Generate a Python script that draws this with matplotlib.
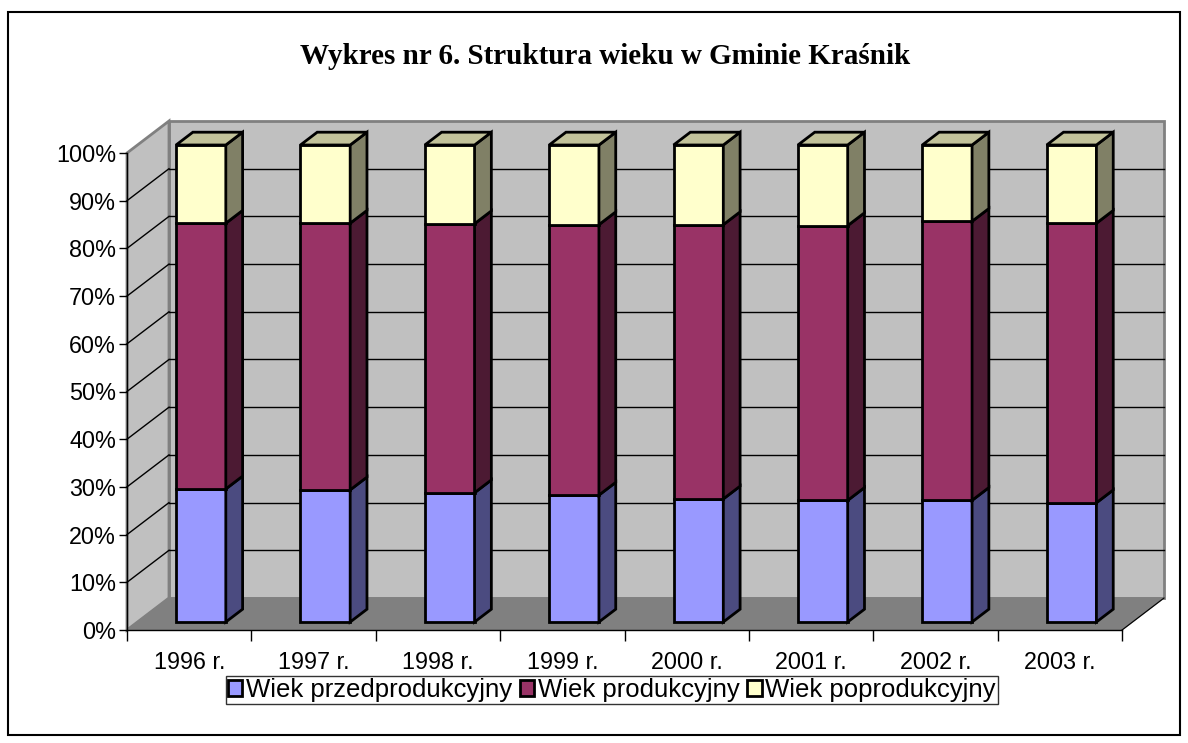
import numpy as np
import matplotlib
matplotlib.use("Agg")
from matplotlib import pyplot as plt
from matplotlib.patches import Polygon, Patch, Rectangle

years = ["1996 r.", "1997 r.", "1998 r.", "1999 r.", "2000 r.", "2001 r.", "2002 r.", "2003 r."]
przed = [27.9, 27.7, 27.1, 26.6, 25.8, 25.5, 25.5, 25.0]
prod = [55.7, 55.9, 56.4, 56.7, 57.5, 57.6, 58.5, 58.6]
popr = [16.4, 16.4, 16.5, 16.7, 16.7, 16.9, 16.0, 16.4]
names = ["Wiek przedprodukcyjny", "Wiek produkcyjny", "Wiek poprodukcyjny"]

# front, side, top colours (excel 3d style)
cols = [("#9999FF", "#4B4B80", "#B0B0FF"),
        ("#993366", "#4C1A33", "#B35580"),
        ("#FFFFCC", "#808066", "#C2C29A")]

W, H = 1188, 743
fig = plt.figure(figsize=(W / 100, H / 100), dpi=100)
ax = fig.add_axes([127 / W, 1 - 630 / H, 995 / W, 477 / H])
n = len(years)
ax.set_xlim(0, n)
ax.set_ylim(0, 100)

DX = 42 / (995 / n)     # depth offset in category units
DY = 32 / 4.77          # depth offset in percent units

# walls and floor
ax.add_patch(Polygon([(DX, DY), (n + DX, DY), (n + DX, 100 + DY), (DX, 100 + DY)],
                     fc="#C0C0C0", ec="#808080", lw=2, clip_on=False, zorder=1))
ax.add_patch(Polygon([(0, 0), (DX, DY), (DX, 100 + DY), (0, 100)],
                     fc="#C0C0C0", ec="#808080", lw=2, clip_on=False, zorder=1))
ax.add_patch(Polygon([(0, 0), (n, 0), (n + DX, DY), (DX, DY)],
                     fc="#808080", ec="#808080", lw=1, clip_on=False, zorder=1.5))
ax.plot([n, n + DX], [0, DY], color="black", lw=0.8, clip_on=False, zorder=1.6)

for g in range(10, 100, 10):
    ax.plot([DX, n + DX], [g + DY, g + DY], color="black", lw=1, clip_on=False, zorder=2)
    ax.plot([0, DX], [g, g + DY], color="black", lw=1, clip_on=False, zorder=2)

f0, f1 = 0.25, 0.65
bx0, bw = 0.31, 0.40
for i in range(n):
    base = 0
    vals = [przed[i], prod[i], popr[i]]
    for k, v in enumerate(vals):
        x0 = i + bx0 + f0 * DX
        x1 = x0 + bw
        y0 = base + f0 * DY
        y1 = base + v + f0 * DY
        ddx = (f1 - f0) * DX
        ddy = (f1 - f0) * DY
        z = 3 + k * 0.1
        ax.add_patch(Polygon([(x0, y0), (x1, y0), (x1, y1), (x0, y1)],
                             fc=cols[k][0], ec="black", lw=2, joinstyle="miter",
                             clip_on=False, zorder=z))
        ax.add_patch(Polygon([(x1, y0), (x1 + ddx, y0 + ddy), (x1 + ddx, y1 + ddy), (x1, y1)],
                             fc=cols[k][1], ec="black", lw=2, joinstyle="miter",
                             clip_on=False, zorder=z))
        if k == len(vals) - 1:
            ax.add_patch(Polygon([(x0, y1), (x1, y1), (x1 + ddx, y1 + ddy), (x0 + ddx, y1 + ddy)],
                                 fc=cols[k][2], ec="black", lw=2, joinstyle="miter",
                                 clip_on=False, zorder=z))
        base += v

for s in ["top", "right"]:
    ax.spines[s].set_visible(False)
for s in ["left", "bottom"]:
    ax.spines[s].set_color("black")
    ax.spines[s].set_linewidth(1)
    ax.spines[s].set_zorder(2.5)

ax.set_yticks(range(0, 101, 10))
ax.set_yticklabels([f"{t}%" for t in range(0, 101, 10)])
ax.set_xticks(range(n + 1))
ax.set_xticklabels([])
ax.set_xticks(np.arange(n) + 0.5, minor=True)
ax.set_xticklabels(years, minor=True)
ax.tick_params(axis="y", length=6, width=1, labelsize=16.8, pad=2)
ax.tick_params(axis="x", which="major", length=8, width=1, direction="out")
ax.tick_params(axis="x", which="minor", length=0, labelsize=16.8, pad=15)
for lab in ax.get_xticklabels(minor=True) + ax.get_yticklabels():
    lab.set_family("Liberation Sans")

fig.text(605 / W, 1 - 56 / H, "Wykres nr 6. Struktura wieku w Gminie Kraśnik",
         ha="center", va="center", family="Liberation Serif", weight="bold", fontsize=21)

handles = [Patch(fc=c[0], ec="black", lw=2) for c in cols]
leg = fig.legend(handles, names, loc="center", bbox_to_anchor=(612 / W, 1 - 690 / H),
                 ncol=3, frameon=True, fancybox=False, edgecolor="black",
                 prop={"family": "Liberation Sans", "size": 18.5},
                 handlelength=0.55, handleheight=0.55, handletextpad=0.15,
                 columnspacing=0.3, borderpad=0.08, borderaxespad=0)
leg.get_frame().set_linewidth(1)

fig.patches.append(Rectangle((8 / W, 1 - 735 / H), 1172 / W, 723 / H,
                             transform=fig.transFigure, fill=False, ec="black", lw=1.5))

fig.savefig("out.png", dpi=100)
